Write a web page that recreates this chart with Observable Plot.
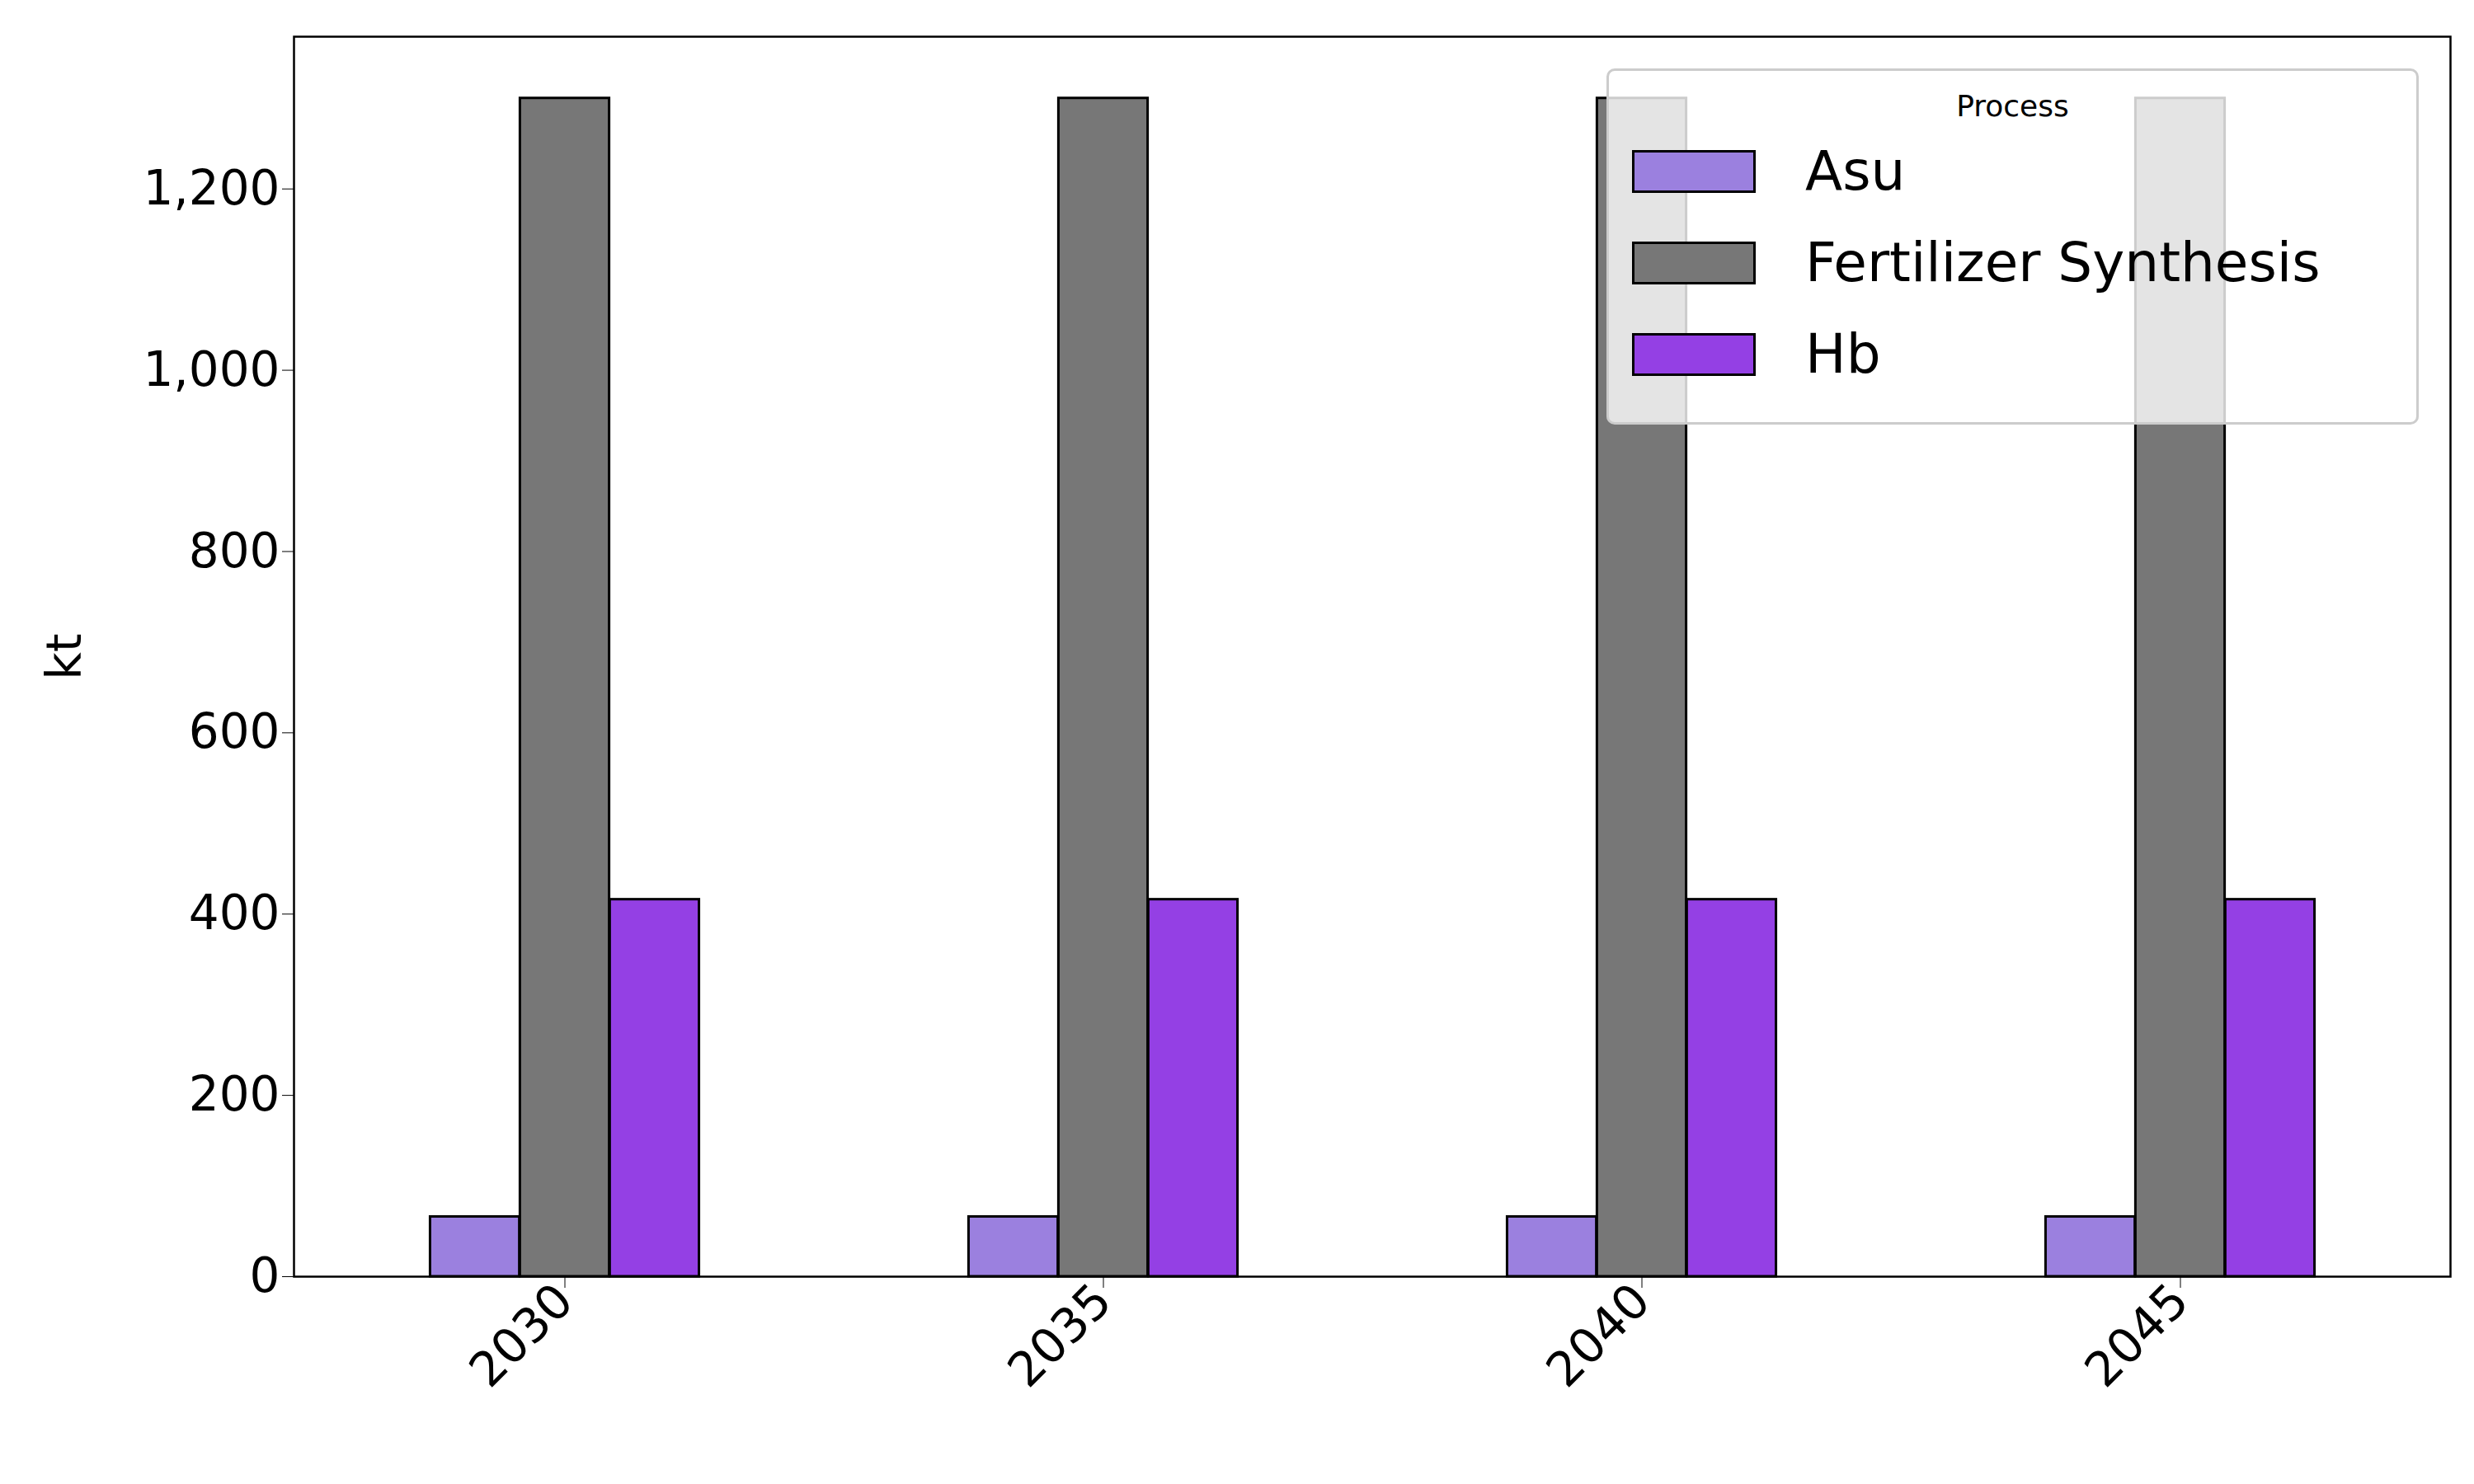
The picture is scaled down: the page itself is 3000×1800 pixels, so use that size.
<!DOCTYPE html>
<html><head><meta charset="utf-8">
<script src="https://cdn.jsdelivr.net/npm/d3@7"></script>
<script src="https://cdn.jsdelivr.net/npm/@observablehq/plot@0.6"></script>
<style>
body{margin:0;background:#fff;font-family:"DejaVu Sans",sans-serif}
#wrap{position:relative;width:3000px;height:1800px}
#legend{position:absolute;left:1948px;top:83px;width:985px;height:432px;box-sizing:border-box;border:3px solid #ccc;border-radius:10px;background:rgba(255,255,255,0.8);font-family:"DejaVu Sans",sans-serif}
#legend .t{text-align:center;font-size:36px;margin-top:22px;height:44px}
#legend .r{display:flex;align-items:center;height:111px;font-size:66px}
#legend .s{width:150px;height:52px;border:3px solid #000;box-sizing:border-box;margin-left:28px;margin-right:60px}
</style></head><body>
<div id="wrap"><div id="chart"></div><div id="legend"></div></div>
<script>
const years = ["2030","2035","2040","2045"];
const processes = ["Asu","Fertilizer Synthesis","Hb"];
const asu = [66,66,66,66];
const fert = [1300,1300,1300,1300];
const hb = [416,416,416,416];
const colors = ["#9b80df","#777777","#9440e4"];
const series = [asu,fert,hb];
const W=3000,H=1800,ml=356,mr=29,mt=44,mb=252;
const band=(W-ml-mr)/years.length, bw=band*0.5/3;
const marks = series.map((vals,i)=>Plot.barY(years.map((y,j)=>({year:y,v:vals[j]})),{
  x:"year",y:"v",fill:colors[i],stroke:"#000",strokeWidth:3,
  insetLeft:(band-bw)/2,insetRight:(band-bw)/2,dx:(i-1)*bw}));
const chart = Plot.plot({
  width:W,height:H,marginLeft:ml,marginRight:mr,marginTop:mt,marginBottom:mb,
  style:{fontSize:"58px",fontFamily:"DejaVu Sans",color:"#000",background:"#fff"},
  x:{domain:years,padding:0,label:null,tickRotate:-45,tickSize:14},
  y:{domain:[0,1368],ticks:[0,200,400,600,800,1000,1200],tickSize:14,label:"kt",labelAnchor:"center",labelArrow:"none",labelOffset:300},
  marks:[...marks,Plot.frame({stroke:"#000",strokeWidth:2.5})]
});
chart.querySelectorAll("text").forEach(t=>{});
document.getElementById("chart").appendChild(chart);
const lg=document.getElementById("legend");
lg.innerHTML='<div class="t">Process</div>'+processes.map((p,i)=>`<div class="r"><div class="s" style="background:${colors[i]}"></div>${p}</div>`).join("");
</script></body></html>
